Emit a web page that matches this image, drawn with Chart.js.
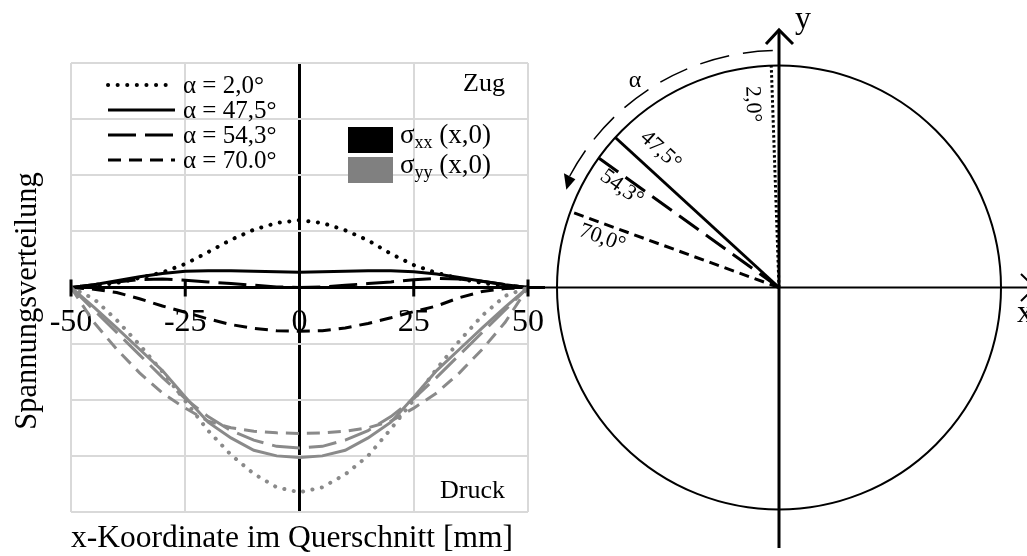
<!DOCTYPE html>
<html>
<head>
<meta charset="utf-8">
<title>Spannungsverteilung</title>
<script src="https://cdn.jsdelivr.net/npm/chart.js@4.4.1/dist/chart.umd.min.js"></script>
<style>
  html, body { margin: 0; padding: 0; background: #ffffff; }
  #wrap { position: relative; width: 1027px; height: 556px; overflow: hidden; }
  #stress { position: absolute; left: 0; top: 0; }
  #circle { position: absolute; left: 530px; top: 0; }
</style>
</head>
<body>
<div id="wrap">
  <canvas id="stress" width="545" height="556"></canvas>
  <canvas id="circle" width="497" height="556"></canvas>
</div>
<script>
const FONT = '"Liberation Serif", "Times New Roman", Times, serif';

// x coordinate in the cross section [mm]
const xPos = [-50, -45, -40, -35, -30, -25, -20, -15, -10, -5, 0, 5, 10, 15, 20, 25, 30, 35, 40, 45, 50];
const xTicks = [-50, -25, 0, 25, 50];

// fibre angles
const angles = [2.0, 47.5, 54.3, 70.0];
const angleLabels = ['2,0°', '47,5°', '54,3°', '70,0°'];
const legendLabels = ['α = 2,0°', 'α = 47,5°', 'α = 54,3°', 'α = 70.0°'];
const stressLabels = ['xx', 'yy'];

// sigma_xx(x,0), normalised
const sxx_2_0  = [0, 0.03, 0.08, 0.17, 0.27, 0.42, 0.63, 0.85, 1.03, 1.15, 1.20, 1.15, 1.02, 0.84, 0.60, 0.40, 0.26, 0.16, 0.08, 0.03, 0];
const sxx_47_5 = [0, 0.05, 0.12, 0.19, 0.25, 0.29, 0.30, 0.30, 0.29, 0.28, 0.27, 0.28, 0.29, 0.30, 0.30, 0.28, 0.24, 0.18, 0.11, 0.05, 0];
const sxx_54_3 = [0, 0.05, 0.10, 0.14, 0.15, 0.13, 0.10, 0.07, 0.04, 0.01, 0.00, 0.01, 0.04, 0.07, 0.10, 0.14, 0.16, 0.15, 0.11, 0.05, 0];
const sxx_70_0 = [0, -0.03, -0.09, -0.20, -0.33, -0.44, -0.56, -0.66, -0.73, -0.77, -0.78, -0.77, -0.72, -0.64, -0.54, -0.43, -0.33, -0.18, -0.07, -0.02, 0];

// sigma_yy(x,0), normalised
const syy_2_0  = [0, -0.20, -0.58, -1.02, -1.50, -2.02, -2.55, -2.98, -3.32, -3.56, -3.65, -3.56, -3.33, -3.00, -2.52, -2.00, -1.45, -0.95, -0.50, -0.15, 0];
const syy_47_5 = [0, -0.35, -0.72, -1.10, -1.48, -1.95, -2.40, -2.68, -2.90, -3.00, -3.03, -3.00, -2.90, -2.68, -2.40, -1.95, -1.48, -1.10, -0.72, -0.35, 0];
const syy_54_3 = [0, -0.40, -0.80, -1.20, -1.60, -1.98, -2.30, -2.55, -2.72, -2.83, -2.86, -2.83, -2.72, -2.55, -2.30, -1.98, -1.60, -1.20, -0.80, -0.40, 0];
const syy_70_0 = [0, -0.62, -1.10, -1.52, -1.88, -2.15, -2.38, -2.50, -2.56, -2.59, -2.60, -2.59, -2.56, -2.50, -2.38, -2.15, -1.88, -1.52, -1.10, -0.62, 0];

const sxxSeries = [sxx_2_0, sxx_47_5, sxx_54_3, sxx_70_0];
const syySeries = [syy_2_0, syy_47_5, syy_54_3, syy_70_0];

const BLACK = '#000000';
const GREY = '#8a8a8a';
const GREY_BOX = '#808080';
const GRID = '#d9d9d9';

// one line style per angle: dotted, solid, long dash, short dash
const lineStyles = [
  { dash: [0.1, 9.5], width: 4, cap: 'round' },
  { dash: [], width: 3, cap: 'butt' },
  { dash: [28, 9], width: 3, cap: 'butt' },
  { dash: [13, 8], width: 3, cap: 'butt' }
];
const rayStyles = [
  { dash: [2.5, 2.5], width: 3 },
  { dash: [], width: 3 },
  { dash: [24, 9], width: 3 },
  { dash: [10, 6], width: 3 }
];

Chart.defaults.font.family = FONT;
Chart.defaults.color = '#000';

function toPoints(values) {
  return xPos.map((x, i) => ({ x: x, y: values[i] }));
}

const stressDatasets = [];
syySeries.forEach((s, i) => stressDatasets.push({
  label: 'σyy ' + legendLabels[i], data: toPoints(s), borderColor: GREY,
  borderWidth: lineStyles[i].width, borderDash: lineStyles[i].dash, borderCapStyle: lineStyles[i].cap
}));
sxxSeries.forEach((s, i) => stressDatasets.push({
  label: 'σxx ' + legendLabels[i], data: toPoints(s), borderColor: BLACK,
  borderWidth: lineStyles[i].width, borderDash: lineStyles[i].dash, borderCapStyle: lineStyles[i].cap
}));

function text(ctx, str, x, y, size, align, baseline, style) {
  ctx.font = (style || '') + ' ' + size + 'px ' + FONT;
  ctx.textAlign = align;
  ctx.textBaseline = baseline;
  ctx.fillStyle = '#000';
  ctx.fillText(str, x, y);
}

// annotations of the stress plot: axis ticks, legends, labels, axis titles
const stressDecor = {
  id: 'stressDecor',
  afterDatasetsDraw(chart) {
    const ctx = chart.ctx;
    const xs = chart.scales.x, ys = chart.scales.y;
    const y0 = ys.getPixelForValue(0);
    const area = chart.chartArea;
    ctx.save();

    // axis continues to the right edge
    ctx.strokeStyle = BLACK; ctx.lineWidth = 3; ctx.setLineDash([]);
    ctx.beginPath(); ctx.moveTo(area.right, y0); ctx.lineTo(chart.width, y0); ctx.stroke();

    // tick marks crossing the axis
    xTicks.filter(v => v !== 0).forEach(v => {
      const p = xs.getPixelForValue(v);
      ctx.beginPath(); ctx.moveTo(p, y0 - 8); ctx.lineTo(p, y0 + 9); ctx.stroke();
    });

    // angle legend
    const lx = 108, len = 67, ly = 85, step = 25;
    legendLabels.forEach((lab, i) => {
      const st = lineStyles[i];
      ctx.strokeStyle = BLACK; ctx.lineWidth = st.width; ctx.lineCap = st.cap; ctx.setLineDash(st.dash);
      ctx.beginPath(); ctx.moveTo(lx, ly + i * step); ctx.lineTo(lx + len, ly + i * step); ctx.stroke();
      ctx.setLineDash([]); ctx.lineCap = 'butt';
      text(ctx, lab, lx + len + 8, ly + i * step + 8, 25, 'left', 'alphabetic');
    });

    // stress component legend
    const bx = 348, by = 127, bw = 45, bh = 26, bstep = 30;
    [BLACK, GREY_BOX].forEach((c, i) => {
      ctx.fillStyle = c;
      ctx.fillRect(bx, by + i * bstep, bw, bh);
      const base = by + 16 + i * bstep;
      let tx = bx + bw + 7;
      text(ctx, 'σ', tx, base, 27, 'left', 'alphabetic');
      ctx.font = '27px ' + FONT; tx += ctx.measureText('σ').width;
      text(ctx, stressLabels[i], tx, base + 5, 18, 'left', 'alphabetic');
      ctx.font = '18px ' + FONT; tx += ctx.measureText(stressLabels[i]).width;
      text(ctx, ' (x,0)', tx, base, 27, 'left', 'alphabetic');
    });

    text(ctx, 'Zug', 505, 91, 26, 'right', 'alphabetic');
    text(ctx, 'Druck', 505, 498, 26, 'right', 'alphabetic');

    // axis titles
    text(ctx, 'x-Koordinate im Querschnitt [mm]', 292, 547, 31.5, 'center', 'alphabetic');
    ctx.save();
    ctx.translate(36, 301);
    ctx.rotate(-Math.PI / 2);
    text(ctx, 'Spannungsverteilung', 0, 0, 30.5, 'center', 'alphabetic');
    ctx.restore();

    ctx.restore();
  }
};

new Chart(document.getElementById('stress'), {
  type: 'line',
  data: { datasets: stressDatasets },
  options: {
    responsive: false,
    animation: false,
    devicePixelRatio: 1,
    layout: { padding: { left: 71, right: 17, top: 63, bottom: 44 }, autoPadding: false },
    elements: { point: { radius: 0 }, line: { tension: 0, fill: false } },
    plugins: { legend: { display: false }, tooltip: { enabled: false } },
    scales: {
      x: {
        type: 'linear', min: -50, max: 50,
        position: { y: 0 },
        afterFit(scale) { scale.height = 0; scale.paddingLeft = 0; scale.paddingRight = 0; },
        afterBuildTicks(scale) { scale.ticks = xTicks.map(v => ({ value: v })); },
        ticks: {
          autoSkip: false, maxRotation: 0, padding: 16, color: '#000',
          font: { family: FONT, size: 32 },
          callback: v => String(v)
        },
        grid: {
          drawTicks: false,
          color: c => (c.tick && c.tick.value === 0 ? BLACK : GRID),
          lineWidth: c => (c.tick && c.tick.value === 0 ? 3 : 2)
        },
        border: { display: true, color: BLACK, width: 3 }
      },
      y: {
        type: 'linear', min: -4, max: 4,
        ticks: { display: false, stepSize: 1 },
        grid: { drawTicks: false, color: GRID, lineWidth: 2 },
        border: { display: false }
      }
    }
  },
  plugins: [stressDecor]
});

// ---- unit circle with the fibre directions ----
const RAD = Math.PI / 180;
const rayDatasets = angles.map((a, i) => ({
  label: angleLabels[i],
  data: [{ x: 0, y: 0 }, { x: -Math.sin(a * RAD), y: Math.cos(a * RAD) }],
  showLine: true, borderColor: BLACK,
  borderWidth: rayStyles[i].width, borderDash: rayStyles[i].dash,
  pointRadius: 0
}));

// label placement along each ray: distance from centre and side offset [px]
const labelPlacement = [
  { along: 184, side: 20 },
  { along: 180, side: -21 },
  { along: 186, side: 11 },
  { along: 183, side: 14 }
];

const circleDecor = {
  id: 'circleDecor',
  beforeDatasetsDraw(chart) {
    const ctx = chart.ctx;
    const xs = chart.scales.x, ys = chart.scales.y;
    const cx = xs.getPixelForValue(0), cy = ys.getPixelForValue(0);
    const R = xs.getPixelForValue(1) - cx;
    ctx.save();
    ctx.strokeStyle = BLACK; ctx.setLineDash([]);

    // circle
    ctx.lineWidth = 2;
    ctx.beginPath(); ctx.arc(cx, cy, R, 0, Math.PI * 2); ctx.stroke();

    // x axis with arrow
    ctx.beginPath(); ctx.moveTo(0, cy); ctx.lineTo(cx + 1.16 * R, cy); ctx.stroke();
    const tipX = cx + 1.153 * R;
    ctx.beginPath(); ctx.moveTo(tipX - 14, cy - 13.5); ctx.lineTo(tipX, cy); ctx.lineTo(tipX - 14, cy + 13.5); ctx.stroke();

    // y axis with arrow
    ctx.lineWidth = 3;
    const top = ys.getPixelForValue(1.16);
    ctx.beginPath(); ctx.moveTo(cx, ys.getPixelForValue(-1.173)); ctx.lineTo(cx, top); ctx.stroke();
    ctx.beginPath(); ctx.moveTo(cx - 13, top + 14); ctx.lineTo(cx, top); ctx.lineTo(cx + 14, top + 14); ctx.stroke();
    ctx.restore();
  },
  afterDatasetsDraw(chart) {
    const ctx = chart.ctx;
    const xs = chart.scales.x, ys = chart.scales.y;
    const cx = xs.getPixelForValue(0), cy = ys.getPixelForValue(0);
    const R = xs.getPixelForValue(1) - cx;
    const pos = (r, deg) => [cx - r * Math.sin(deg * RAD), cy - r * Math.cos(deg * RAD)];
    ctx.save();

    // angle labels parallel to their rays
    angles.forEach((a, i) => {
      const p = labelPlacement[i];
      const u = [-Math.sin(a * RAD), -Math.cos(a * RAD)];
      const n = [-Math.cos(a * RAD), Math.sin(a * RAD)];
      const x = cx + p.along * u[0] + p.side * n[0];
      const y = cy + p.along * u[1] + p.side * n[1];
      ctx.save();
      ctx.translate(x, y);
      ctx.rotate((90 - a) * RAD);
      text(ctx, angleLabels[i], 0, 0, 22, 'center', 'middle');
      ctx.restore();
    });

    // dashed arc showing the direction of alpha
    const rArc = 1.068 * R;
    ctx.strokeStyle = BLACK; ctx.lineWidth = 1.5; ctx.setLineDash([30, 14]);
    ctx.beginPath();
    ctx.arc(cx, cy, rArc, (-90 - 1.5) * RAD, (-90 - 62) * RAD, true);
    ctx.stroke();
    ctx.setLineDash([]);
    const tip = pos(rArc - 3, 65.3);
    const base = pos(rArc, 62);
    const rad = [-Math.sin(62 * RAD), -Math.cos(62 * RAD)];
    ctx.fillStyle = BLACK;
    ctx.beginPath();
    ctx.moveTo(base[0] + 6.5 * rad[0], base[1] + 6.5 * rad[1]);
    ctx.lineTo(tip[0], tip[1]);
    ctx.lineTo(base[0] - 6.5 * rad[0], base[1] - 6.5 * rad[1]);
    ctx.closePath(); ctx.fill();

    text(ctx, 'α', cx - 144, 81, 24, 'center', 'middle');
    text(ctx, 'y', cx + 16, 28, 32, 'left', 'alphabetic');
    text(ctx, 'x', cx + 238, 322, 32, 'left', 'alphabetic');
    ctx.restore();
  }
};

const R_PX = 222;
new Chart(document.getElementById('circle'), {
  type: 'scatter',
  data: { datasets: rayDatasets },
  options: {
    responsive: false,
    animation: false,
    devicePixelRatio: 1,
    layout: { padding: 0, autoPadding: false },
    plugins: { legend: { display: false }, tooltip: { enabled: false } },
    scales: {
      x: { type: 'linear', display: false, min: -249 / R_PX, max: 248 / R_PX },
      y: { type: 'linear', display: false, min: -268.5 / R_PX, max: 287.5 / R_PX }
    }
  },
  plugins: [circleDecor]
});
</script>
</body>
</html>
